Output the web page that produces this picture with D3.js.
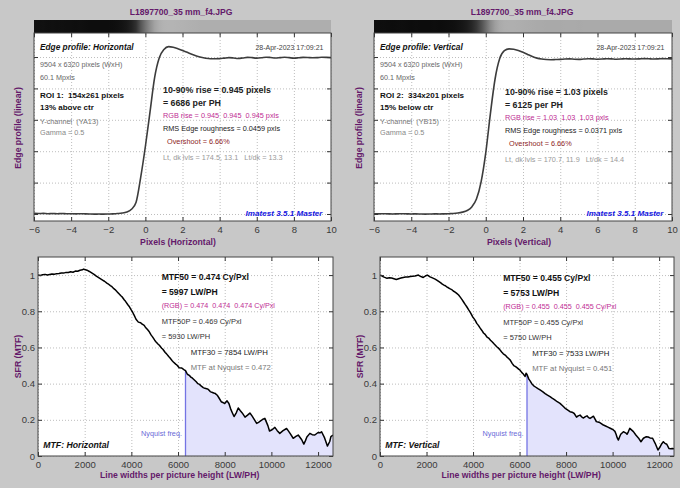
<!DOCTYPE html>
<html><head><meta charset="utf-8">
<script src="https://cdn.jsdelivr.net/npm/d3@7"></script>
<style>
body{margin:0;background:#c8c8c8;}
svg{display:block;font-family:"Liberation Sans",Arial,sans-serif;}
text{white-space:pre;}
</style></head><body>
<svg id="c" width="680" height="488"></svg>
<script>
// ---------------- DATA ----------------
const fileTitle = "L1897700_35 mm_f4.JPG";
const edgeX = [-6,-5.75,-5.5,-5.25,-5,-4.75,-4.5,-4.25,-4,-3.75,-3.5,-3.25,-3,-2.75,-2.5,-2.25,-2,-1.75,-1.5,-1.25,-1,-0.75,-0.5,-0.25,
  0,0.25,0.5,0.75,1,1.25,1.5,1.75,2,2.25,2.5,2.75,3,3.25,3.5,3.75,4,4.25,4.5,4.75,5,5.25,5.5,5.75,6,6.25,6.5,6.75,7,7.25,7.5,7.75,8,8.25,8.5,8.75,9,9.25,9.5,9.75,10];
const edgeH = [0.004,0.003,0.004,0.002,0.003,0.002,0.003,0.002,0.002,0.001,0.002,0.001,0.000,-0.001,0.000,-0.001,0.000,0.001,0.003,0.006,0.013,0.030,0.075,0.235,
  0.430,0.650,0.870,0.995,1.048,1.066,1.062,1.053,1.042,1.030,1.018,1.007,0.998,0.992,0.989,0.989,0.990,0.993,0.996,0.994,0.991,0.994,0.998,0.996,0.993,0.995,0.999,0.997,0.994,0.996,0.999,0.996,0.993,0.995,0.998,0.997,0.995,0.996,0.999,0.998,0.996];
const edgeV = [0.002,0.001,0.002,0.001,0.000,0.001,0.002,0.001,0.000,0.001,0.000,-0.001,0.000,0.001,0.000,0.001,0.002,0.003,0.006,0.012,0.022,0.045,0.095,0.205,
  0.390,0.640,0.860,0.990,1.040,1.052,1.050,1.042,1.030,1.016,1.003,0.993,0.987,0.984,0.983,0.984,0.985,0.987,0.988,0.986,0.985,0.987,0.989,0.988,0.986,0.987,0.989,0.988,0.986,0.987,0.989,0.988,0.987,0.988,0.990,0.989,0.987,0.988,0.990,0.989,0.988];
const edgeXTicks = [-6,-4,-2,0,2,4,6,8,10];
const edgeYTicks = [0,0.2,0.4,0.6,0.8,1.0];
const lightDarkH = [174.5, 13.1];
const lightDarkV = [170.7, 11.9];

const mtfXTicks = [0,2000,4000,6000,8000,10000,12000];
const mtfYTicks = [0,0.2,0.4,0.6,0.8,1];
const nyquistLWPH = 6320;
const mtfHx = [0,100,200,300,400,500,600,700,800,900,1000,1100,1200,1300,1400,1500,1600,1700,1800,1900,1950,2000,2100,2200,2250,2350,2400,2500,2550,2650,2700,2800,2850,2950,3000,3100,3150,3250,3300,3400,3450,3550,3600,3700,3750,3850,3900,4000,4050,4150,4200,4300,4400,4450,4550,4600,4700,4750,4850,4900,5000,5050,5150,5200,5300,5350,5450,5500,5600,5650,5750,5800,5900,5950,6050,6150,6250,6320,6400,6480,6550,6620,6700,6780,6850,6920,7000,7080,7150,7230,7300,7380,7450,7530,7600,7680,7750,7850,7920,8000,8100,8180,8250,8330,8400,8500,8580,8670,8750,8870,8980,9080,9170,9250,9370,9450,9550,9640,9720,9850,9920,10030,10150,10250,10360,10500,10650,10720,10800,10935,11050,11150,11300,11390,11460,11520,11650,11750,11860,12000,12080,12150,12280,12400,12500,12550,12640];
const mtfHy = [1.000,0.998,1.002,1.004,1.000,1.003,1.006,1.005,1.008,1.009,1.012,1.011,1.015,1.014,1.018,1.016,1.022,1.021,1.027,1.029,1.033,1.031,1.027,1.020,1.016,1.008,1.004,0.994,0.990,0.982,0.978,0.970,0.966,0.956,0.952,0.942,0.938,0.925,0.920,0.906,0.900,0.886,0.880,0.862,0.855,0.836,0.828,0.806,0.796,0.770,0.756,0.740,0.737,0.730,0.722,0.712,0.698,0.690,0.668,0.660,0.640,0.632,0.618,0.612,0.596,0.590,0.572,0.566,0.550,0.543,0.527,0.520,0.508,0.503,0.488,0.487,0.478,0.472,0.452,0.446,0.436,0.430,0.420,0.410,0.400,0.396,0.386,0.378,0.374,0.372,0.368,0.356,0.352,0.348,0.345,0.336,0.322,0.300,0.296,0.290,0.305,0.290,0.262,0.238,0.218,0.240,0.265,0.250,0.238,0.215,0.226,0.238,0.222,0.205,0.180,0.186,0.195,0.204,0.208,0.168,0.138,0.145,0.158,0.140,0.125,0.140,0.152,0.140,0.125,0.098,0.108,0.116,0.090,0.066,0.085,0.105,0.125,0.118,0.116,0.130,0.128,0.134,0.100,0.055,0.080,0.107,0.115];
const mtfVx = [0,80,150,230,300,400,500,600,700,800,900,1000,1100,1200,1300,1400,1500,1580,1650,1700,1760,1860,1950,2030,2100,2150,2230,2300,2370,2440,2520,2600,2680,2750,2810,2870,2940,3000,3080,3150,3230,3300,3380,3450,3520,3600,3660,3730,3820,3900,3980,4050,4100,4160,4230,4300,4380,4450,4520,4590,4670,4750,4830,4900,4960,5020,5080,5150,5230,5300,5380,5450,5530,5600,5680,5750,5830,5900,5960,6020,6090,6150,6200,6240,6280,6320,6400,6460,6525,6610,6700,6790,6880,6990,7100,7200,7310,7400,7500,7620,7740,7850,7950,8060,8170,8260,8350,8450,8520,8600,8680,8750,8830,8900,8970,9030,9100,9175,9240,9300,9370,9450,9530,9605,9700,9800,9920,10035,10100,10150,10200,10250,10300,10350,10465,10560,10620,10680,10740,10800,10895,11000,11110,11220,11325,11450,11530,11610,11720,11830,11950,12040,12115,12180,12250,12330,12420,12500,12570,12640];
const mtfVy = [1.000,0.996,0.990,0.986,0.982,0.985,0.984,0.980,0.976,0.980,0.984,0.987,0.990,0.989,0.992,0.994,0.995,0.998,1.000,0.996,0.992,0.987,0.995,1.000,0.995,0.990,0.986,0.982,0.978,0.972,0.965,0.958,0.950,0.945,0.941,0.935,0.930,0.925,0.920,0.912,0.906,0.899,0.890,0.878,0.866,0.850,0.838,0.825,0.806,0.790,0.770,0.758,0.748,0.733,0.722,0.708,0.694,0.680,0.672,0.659,0.652,0.640,0.630,0.620,0.612,0.604,0.598,0.588,0.575,0.565,0.558,0.548,0.539,0.530,0.512,0.500,0.494,0.487,0.480,0.475,0.462,0.455,0.446,0.440,0.458,0.451,0.425,0.414,0.400,0.388,0.380,0.372,0.365,0.356,0.345,0.336,0.328,0.320,0.312,0.300,0.291,0.278,0.265,0.255,0.245,0.242,0.235,0.215,0.222,0.226,0.215,0.210,0.218,0.222,0.212,0.208,0.214,0.220,0.205,0.190,0.188,0.185,0.178,0.171,0.166,0.160,0.152,0.144,0.136,0.120,0.100,0.088,0.105,0.120,0.134,0.128,0.120,0.135,0.153,0.146,0.135,0.116,0.100,0.079,0.098,0.107,0.105,0.100,0.098,0.070,0.033,0.050,0.068,0.079,0.070,0.065,0.042,0.040,0.042,0.040,0.037];

const edgeTextsH = ["Edge profile: Horizontal","28-Apr-2023 17:09:21","9504 x 6320 pixels (WxH)","60.1 Mpxls","ROI 1:  154x261 pixels","13% above ctr","Y-channel  (YA13)","Gamma = 0.5",
  "10-90% rise = 0.945 pixels","= 6686 per PH","RGB rise = 0.945  0.945  0.945 pxls","RMS Edge roughness = 0.0459 pxls","Overshoot = 6.66%","Lt, dk lvls = 174.5, 13.1   Lt/dk = 13.3","Imatest 3.5.1 Master","Pixels (Horizontal)"];
const edgeTextsV = ["Edge profile: Vertical","28-Apr-2023 17:09:21","9504 x 6320 pixels (WxH)","60.1 Mpxls","ROI 2:  334x201 pixels","15% below ctr","Y-channel  (YB15)","Gamma = 0.5",
  "10-90% rise = 1.03 pixels","= 6125 per PH","RGB rise = 1.03  1.03  1.03 pxls","RMS Edge roughness = 0.0371 pxls","Overshoot = 6.66%","Lt, dk lvls = 170.7, 11.9   Lt/dk = 14.4","Imatest 3.5.1 Master","Pixels (Vertical)"];
const mtfTextsH = ["MTF50 = 0.474 Cy/Pxl","= 5997 LW/PH","(RGB) = 0.474  0.474  0.474 Cy/Pxl","MTF50P = 0.469 Cy/Pxl","= 5930 LW/PH","MTF30 = 7854 LW/PH","MTF at Nyquist = 0.472","Nyquist freq.","MTF: Horizontal"];
const mtfTextsV = ["MTF50 = 0.455 Cy/Pxl","= 5753 LW/PH","(RGB) = 0.455  0.455  0.455 Cy/Pxl","MTF50P = 0.455 Cy/Pxl","= 5750 LW/PH","MTF30 = 7533 LW/PH","MTF at Nyquist = 0.451","Nyquist freq.","MTF: Vertical"];
const edgeYLabel = "Edge profile (linear)";
const mtfYLabel = "SFR (MTF)";
const mtfXLabel = "Line widths per picture height (LW/PH)";

// ---------------- DRAWING ----------------
const svg = d3.select("#c");
svg.append("rect").attr("width",680).attr("height",488).attr("fill","#c8c8c8");
const PURPLE = "#64196a";
let clipN = 0;

function txt(g, x, y, s, size, opts={}) {
  return g.append("text").attr("x",x).attr("y",y).text(s)
    .attr("xml:space","preserve")
    .style("font-size",size+"px")
    .attr("fill",opts.fill||"#111")
    .attr("font-weight",opts.bold?"bold":"normal")
    .attr("font-style",opts.italic?"italic":"normal")
    .attr("text-anchor",opts.anchor||"start");
}

function axesFrame(g, x, y, xT, yT, b) {
  g.append("g").attr("transform",`translate(0,${b.y1})`)
    .call(d3.axisBottom(x).tickValues(xT).tickSize(-(b.y1-b.y0)).tickFormat(""))
    .call(a=>a.select(".domain").remove())
    .call(a=>a.selectAll("line").attr("stroke","#bdbdbd").attr("stroke-dasharray","1,2"));
  g.append("g").attr("transform",`translate(${b.x0},0)`)
    .call(d3.axisLeft(y).tickValues(yT).tickSize(-(b.x1-b.x0)).tickFormat(""))
    .call(a=>a.select(".domain").remove())
    .call(a=>a.selectAll("line").attr("stroke","#bdbdbd").attr("stroke-dasharray","1,2"));
}

function axesTicks(g, x, y, xT, yT, b, xFmt, yFmt) {
  const style = a => { a.select(".domain").remove(); a.selectAll("line").attr("stroke","#333");
    a.selectAll("text").attr("fill","#3a3a3a").style("font-size","9.5px").style("font-family","'Liberation Sans',Arial,sans-serif"); };
  g.append("g").attr("transform",`translate(0,${b.y1})`)
    .call(d3.axisBottom(x).tickValues(xT).tickSize(-4).tickPadding(5.5).tickFormat(xFmt)).call(style);
  g.append("g").attr("transform",`translate(0,${b.y0})`)
    .call(d3.axisTop(x).tickValues(xT).tickSize(-4).tickFormat("")).call(style);
  g.append("g").attr("transform",`translate(${b.x0},0)`)
    .call(d3.axisLeft(y).tickValues(yT).tickSize(-4).tickPadding(3).tickFormat(yFmt)).call(style);
  g.append("g").attr("transform",`translate(${b.x1},0)`)
    .call(d3.axisRight(y).tickValues(yT).tickSize(-4).tickFormat("")).call(style);
  g.append("rect").attr("x",b.x0).attr("y",b.y0).attr("width",b.x1-b.x0).attr("height",b.y1-b.y0)
    .attr("fill","none").attr("stroke","#444").attr("stroke-width",1);
}

function clipFor(b) {
  const id = "clip"+(clipN++);
  svg.append("clipPath").attr("id",id).append("rect")
    .attr("x",b.x0).attr("y",b.y0).attr("width",b.x1-b.x0).attr("height",b.y1-b.y0);
  return `url(#${id})`;
}

function edgePanel(vals, texts, lvls, b, yDom, dx, dyR) {
  const g = svg.append("g");
  const x = d3.scaleLinear().domain([-6,10]).range([b.x0,b.x1]);
  const y = d3.scaleLinear().domain(yDom).range([b.y1,b.y0]);
  txt(g, 181+dx, 14.5, fileTitle, 8.6, {fill:PURPLE, bold:true, anchor:"middle"});
  const gid = "grad"+Math.round(dx);
  const lg = svg.append("defs").append("linearGradient").attr("id",gid)
    .attr("gradientUnits","userSpaceOnUse").attr("x1",b.x0).attr("x2",b.x1).attr("y1",0).attr("y2",0);
  const lt2 = Math.pow(lvls[0]/255,2), dk2 = Math.pow(lvls[1]/255,2);
  edgeX.forEach((xv,i)=>{
    const v = Math.max(0, vals[i]);
    const p = Math.round(255*Math.sqrt(dk2 + v*(lt2-dk2)));
    lg.append("stop").attr("offset",(x(xv)-b.x0)/(b.x1-b.x0)).attr("stop-color",d3.rgb(p,p,p).formatHex());
  });
  g.append("rect").attr("x",b.x0).attr("y",20).attr("width",b.x1-b.x0).attr("height",b.y0-20).attr("fill",`url(#${gid})`);
  g.append("rect").attr("x",b.x0).attr("y",b.y0).attr("width",b.x1-b.x0).attr("height",b.y1-b.y0).attr("fill","#fff");
  axesFrame(g,x,y,edgeXTicks,edgeYTicks,b);
  const L = b.x0+6;
  txt(g, L, 50, texts[0], 8.3, {bold:true, italic:true});
  txt(g, b.x1-7.5, 49.5, texts[1], 7, {fill:"#444", anchor:"end"});
  txt(g, L, 66.5, texts[2], 7.2, {fill:"#666"});
  txt(g, L, 79.5, texts[3], 7.2, {fill:"#666"});
  txt(g, L, 97.8, texts[4], 8, {bold:true});
  txt(g, L, 109.5, texts[5], 8, {bold:true});
  txt(g, L, 124.3, texts[6], 7.3, {fill:"#777"});
  txt(g, L, 135.3, texts[7], 7.3, {fill:"#888"});
  const R = 163+dx+(dx?1:0);
  txt(g, R, 92.6+dyR, texts[8], 8.8, {bold:true, fill:"#222"});
  txt(g, R, 106.1+dyR, texts[9], 8.8, {bold:true, fill:"#222"});
  txt(g, R, 118.3+dyR, texts[10], 7.3, {fill:"#c02c94"});
  txt(g, R, 131+dyR, texts[11], 7.3, {fill:"#222"});
  txt(g, R+4, 144.3+dyR, texts[12], 7.3, {fill:"#8e2525"});
  txt(g, R, 160.3+dyR, texts[13], 7.3, {fill:"#9a9a9a"});
  txt(g, b.x1-8.5, 216, texts[14], 8.1, {bold:true, italic:true, fill:"#1515e0", anchor:"end"});
  const line = d3.line().x((d,i)=>x(edgeX[i])).y(d=>y(d)).curve(d3.curveMonotoneX);
  g.append("path").datum(vals).attr("d",line).attr("fill","none")
    .attr("stroke","#3c3c3c").attr("stroke-width",1.6).attr("clip-path",clipFor(b));
  axesTicks(g,x,y,edgeXTicks,edgeYTicks,b,d3.format("d"),"");
  txt(g, 178+dx, 244.7, texts[15], 8.7, {bold:true, fill:PURPLE, anchor:"middle"});
  g.append("text").attr("transform",`translate(${21+dx},${128}) rotate(-90)`).attr("text-anchor","middle")
    .attr("fill",PURPLE).attr("font-weight","bold").style("font-size","8.7px").text(edgeYLabel);
}

function mtfPanel(xs, ys, texts, b, dx) {
  const g = svg.append("g");
  const x = d3.scaleLinear().domain([0,12640]).range([b.x0,b.x1]);
  const y = d3.scaleLinear().domain([0,1.1]).range([b.y1,b.y0]);
  g.append("rect").attr("x",b.x0).attr("y",b.y0).attr("width",b.x1-b.x0).attr("height",b.y1-b.y0).attr("fill","#fff");
  axesFrame(g,x,y,mtfXTicks,mtfYTicks,b);
  const pts = xs.map((v,i)=>[v,ys[i]]);
  const after = pts.filter(p=>p[0]>=nyquistLWPH);
  const area = d3.area().x(d=>x(d[0])).y0(y(0)).y1(d=>y(d[1]));
  const cp = clipFor(b);
  g.append("path").datum(after).attr("d",area).attr("fill","#e3e3fc").attr("clip-path",cp);
  const nyV = after[0][1];
  g.append("line").attr("x1",x(nyquistLWPH)).attr("x2",x(nyquistLWPH)).attr("y1",y(0)).attr("y2",y(nyV))
    .attr("stroke","#7474e4").attr("stroke-width",1.3);
  const line = d3.line().x(d=>x(d[0])).y(d=>y(d[1]));
  g.append("path").datum(pts).attr("d",line).attr("fill","none").attr("stroke","#000")
    .attr("stroke-width",1.5).attr("stroke-linejoin","round").attr("clip-path",cp);
  const dy = dx?1:0;
  const L = 161.7+dx;
  txt(g, L, 280.3+dy, texts[0], 8.6, {bold:true});
  txt(g, L, 294.7+dy, texts[1], 8.6, {bold:true});
  txt(g, L, 307.6+dy, texts[2], 7.2, {fill:"#c02c94"});
  txt(g, L, 324.3+dy, texts[3], 7.5, {fill:"#333"});
  txt(g, L, 338.6+dy, texts[4], 7.5, {fill:"#333"});
  txt(g, 190.7+dx, 355.3+dy, texts[5], 7.8, {fill:"#222"});
  txt(g, 190.7+dx, 369.6+dy, texts[6], 7.7, {fill:"#777"});
  txt(g, x(nyquistLWPH)-3.5, 435.6, texts[7], 7.3, {fill:"#6a6ad8", anchor:"end"});
  txt(g, b.x0+5.3, 448, texts[8], 8.7, {bold:true, italic:true});
  axesTicks(g,x,y,mtfXTicks,mtfYTicks,b,d3.format("d"),d3.format("~g"));
  txt(g, 179.7+dx, 478, mtfXLabel, 8.7, {bold:true, fill:PURPLE, anchor:"middle"});
  g.append("text").attr("transform",`translate(${21+dx},${356.5}) rotate(-90)`).attr("text-anchor","middle")
    .attr("fill",PURPLE).attr("font-weight","bold").style("font-size","8.7px").text(mtfYLabel);
}

edgePanel(edgeH, edgeTextsH, lightDarkH, {x0:34,x1:331,y0:33,y1:221}, [-0.0446,1.153], 0, 0);
edgePanel(edgeV, edgeTextsV, lightDarkV, {x0:374,x1:672,y0:33,y1:221}, [-0.0446,1.153], 341, 2);
mtfPanel(mtfHx, mtfHy, mtfTextsH, {x0:38,x1:333,y0:257,y1:456}, 0);
mtfPanel(mtfVx, mtfVy, mtfTextsV, {x0:380,x1:674,y0:257,y1:456}, 341.5);
</script>
</body></html>
